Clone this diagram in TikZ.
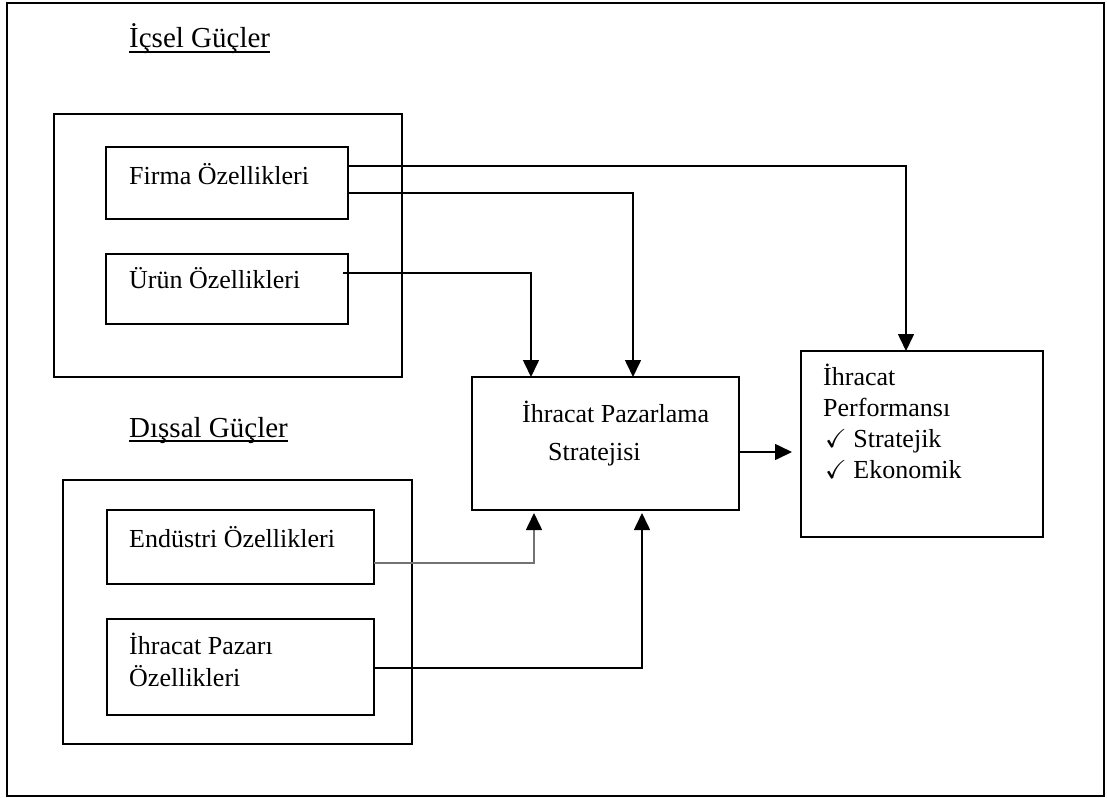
\documentclass[tikz,border=0pt]{standalone}
\usepackage{fontspec}
\usepackage{amssymb}
\setmainfont{Liberation Serif}
\usetikzlibrary{arrows.meta,calc,positioning}

\begin{document}
\begin{tikzpicture}[x=1pt,y=-1pt,line cap=butt,
    box/.style={draw,line width=1.6pt,inner sep=0pt,outer sep=0pt,anchor=north west},
    lbl/.style={anchor=base west,inner sep=0pt,font=\fontsize{26}{31}\selectfont},
    head/.style={anchor=base west,inner sep=0pt,font=\fontsize{29}{35}\selectfont},
    conn/.style={line width=1.6pt,-{Triangle[length=17pt,width=16pt,color=black]}}]
  \useasboundingbox (0,0) rectangle (1107,797);
  \draw[line width=2.2pt] (7,3) rectangle (1104,796);

  % Internal forces
  \node[head] (icsel) at (129,48) {İçsel Güçler};
  \draw[line width=1.3pt] ([yshift=-4pt]icsel.base west) -- ([yshift=-4pt]icsel.base east);
  \node[box,minimum width=348pt,minimum height=263pt] (icbox) at (54,114) {};
  \node[box,minimum width=242pt,minimum height=72pt] (firma) at (106,147) {};
  \node[lbl] (firmatxt) at (129,184) {Firma Özellikleri};
  \node[box,minimum width=242pt,minimum height=70pt] (urun) at (106,254) {};
  \node[lbl] (uruntxt) at (129,288) {Ürün Özellikleri};

  % External forces
  \node[head] (dissal) at (129,437) {Dışsal Güçler};
  \draw[line width=1.3pt] ([yshift=-4pt]dissal.base west) -- ([yshift=-4pt]dissal.base east);
  \node[box,minimum width=349pt,minimum height=264pt] (disbox) at (63,480) {};
  \node[box,minimum width=267pt,minimum height=74pt] (endu) at (107,510) {};
  \node[lbl] (endutxt) at (129,547) {Endüstri Özellikleri};
  \node[box,minimum width=267pt,minimum height=96pt] (pazar) at (107,619) {};
  \node[lbl] (pazartxt) at (129,654) {İhracat Pazarı};
  \node[lbl] (pazartxtb) at (129,686) {Özellikleri};

  % Strategy and performance
  \node[box,minimum width=267pt,minimum height=133pt] (strat) at (472,377) {};
  \node[lbl] (strattxt) at (522,422) {İhracat Pazarlama};
  \node[lbl] (strattxtb) at (548,460) {Stratejisi};
  \node[box,minimum width=242pt,minimum height=186pt] (perf) at (801,351) {};
  \node[lbl] (perftxt) at (823,385) {İhracat};
  \node[lbl] (perftxtb) at (823,416) {Performansı};
  \node[lbl] (strtxt) at (825,447) {$\checkmark$ Stratejik};
  \node[lbl] (ekotxt) at (825,478) {$\checkmark$ Ekonomik};

  % Connectors
  \draw[conn] ([yshift=-19pt]firma.north east) -| ([xshift=105pt]perf.north west);
  \draw[conn] ([yshift=-46pt]firma.north east) -| ([xshift=161pt]strat.north west);
  \draw[conn] ([xshift=-5pt,yshift=-19pt]urun.north east) -| ([xshift=59pt]strat.north west);
  \draw[conn,draw=black!55,shorten >=3pt] ([yshift=-53pt]endu.north east) -| ([xshift=62pt]strat.south west);
  \draw[conn,shorten >=3pt] ([yshift=-49pt]pazar.north east) -| ([xshift=170pt]strat.south west);
  \draw[conn] ([yshift=-75pt]strat.north east) -- ([xshift=-9pt,yshift=-101pt]perf.north west);
\end{tikzpicture}
\end{document}
